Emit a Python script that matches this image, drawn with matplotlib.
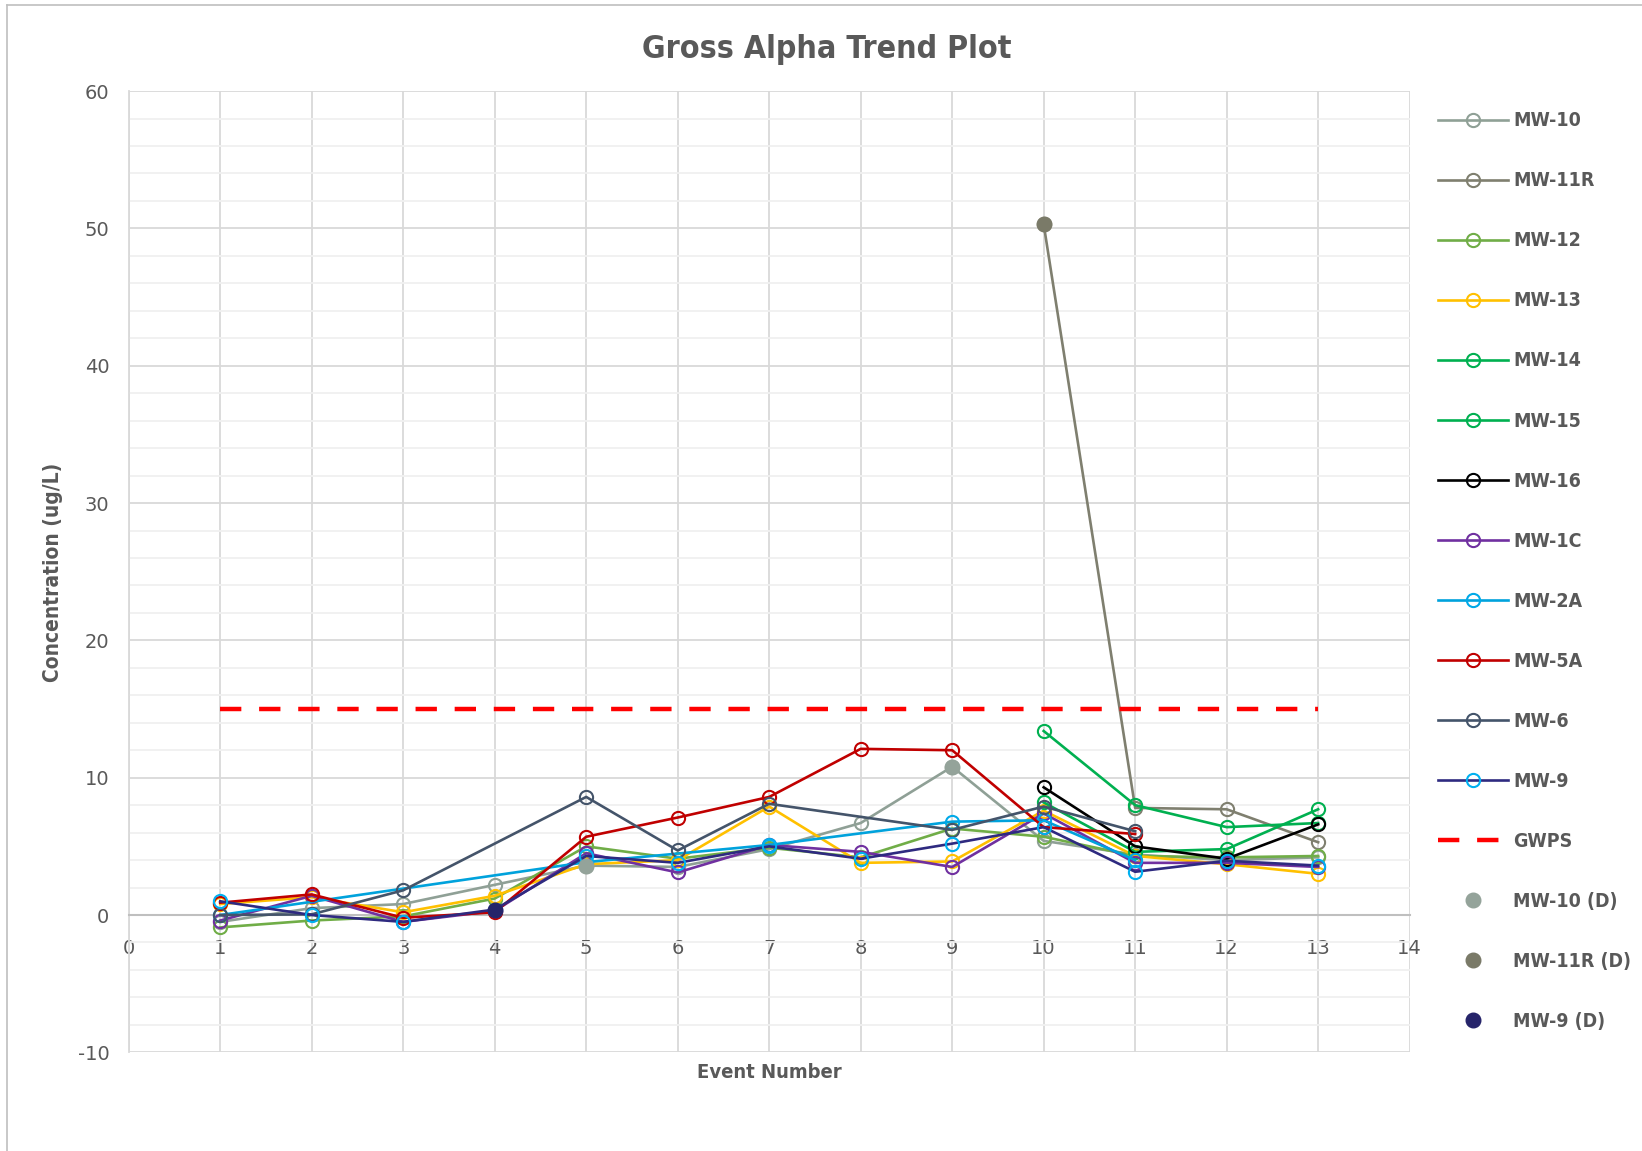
import numpy as np
import matplotlib
matplotlib.use("Agg")
import matplotlib.pyplot as plt
from matplotlib import font_manager
from matplotlib.lines import Line2D

plt.rcParams["axes.unicode_minus"] = False

nan = np.nan
events = np.arange(1, 14)

mw10 = [-0.5, 0.5, 0.8, 2.2, 3.6, 3.5, 4.8, 6.7, 10.8, 5.4, 4.4, 4.0, 4.2]
mw11r = [nan] * 9 + [50.3, 7.8, 7.7, 5.3]
mw12 = [-0.9, -0.4, -0.1, 1.2, 5.0, 4.1, 4.9, 4.2, 6.3, 5.7, 4.3, 4.2, 4.3]
mw13 = [0.8, 1.3, 0.2, 1.4, 3.7, 4.0, 7.9, 3.8, 3.9, 7.6, 4.3, 3.7, 3.0]
mw14 = [nan] * 9 + [13.4, 8.0, 6.4, 6.7]
mw15 = [nan] * 9 + [8.2, 4.6, 4.8, 7.7]
mw16 = [nan] * 9 + [9.3, 5.0, 4.1, 6.6]
mw1c = [-0.4, 1.4, -0.5, 0.3, 4.5, 3.1, 5.1, 4.6, 3.5, 7.4, 3.8, 3.8, 3.5]
mw2a = [0.0, nan, nan, nan, 3.85, nan, 5.1, nan, 6.8, 6.9, 4.0, nan, nan]
mw5a = [0.9, 1.5, -0.2, 0.2, 5.7, 7.1, 8.6, 12.1, 12.0, 6.4, 5.9, nan, nan]
mw6 = [0.0, 0.05, 1.8, nan, 8.6, 4.7, 8.1, nan, 6.2, 7.9, 6.1, nan, nan]
mw9 = [1.0, 0.0, -0.5, 0.4, 4.3, 3.8, 5.0, 4.1, 5.2, 6.4, 3.15, 3.95, 3.6]
gwps = [15.0] * 13
mw10_d = [nan] * 4 + [3.6] + [nan] * 3 + [10.8] + [nan] * 4
mw11r_d = [nan] * 9 + [50.3] + [nan] * 3
mw9_d = [nan] * 3 + [0.4] + [nan] * 9

# name, values, line colour, marker colour
series = [
    ("MW-10", mw10, "#8FA096", "#8FA096"),
    ("MW-11R", mw11r, "#7F7F6F", "#7F7F6F"),
    ("MW-12", mw12, "#70AD47", "#70AD47"),
    ("MW-13", mw13, "#FFC000", "#FFC000"),
    ("MW-14", mw14, "#00B050", "#00B050"),
    ("MW-15", mw15, "#00B050", "#00B050"),
    ("MW-16", mw16, "#000000", "#000000"),
    ("MW-1C", mw1c, "#7030A0", "#7030A0"),
    ("MW-2A", mw2a, "#00A2DC", "#00A9E8"),
    ("MW-5A", mw5a, "#C00000", "#C00000"),
    ("MW-6", mw6, "#44546A", "#44546A"),
    ("MW-9", mw9, "#2E2A80", "#00B0F0"),
]
dup_series = [
    ("MW-10 (D)", mw10_d, "#94A39A"),
    ("MW-11R (D)", mw11r_d, "#7A7A68"),
    ("MW-9 (D)", mw9_d, "#26246A"),
]

gray = "#595959"

# look for a narrow / condensed face for the bold labels
cands = [f for f in font_manager.fontManager.ttflist
         if "Narrow" in f.name or "Condensed" in f.name
         or str(f.stretch) in ("condensed", "semi-condensed", "extra-condensed", "75", "87")]
cands.sort(key=lambda f: (0 if f.weight in ("bold", 700, "700") else 1))
if cands:
    bold_family = [cands[0].name, "DejaVu Sans"]
    bold_stretch = cands[0].stretch
    scale = 1.0
else:
    bold_family = ["DejaVu Sans"]
    bold_stretch = "normal"
    scale = 0.88


def bfont(size):
    return font_manager.FontProperties(family=bold_family, weight="bold",
                                       stretch=bold_stretch, size=size * scale)


fig = plt.figure(figsize=(16.42, 11.51), dpi=100)
ax = fig.add_axes([0.0784, 0.0857, 0.7801, 0.8352])

handles = []
for name, vals, lc, mc in series:
    y = np.array(vals, dtype=float)
    m = ~np.isnan(y)
    h, = ax.plot(events[m], y[m], color=lc, lw=1.9, marker="o", ms=9.5,
                 mfc="none", mec=mc, mew=1.5, label=name, zorder=3)
    handles.append(h)

h, = ax.plot(events, gwps, color="#FF0000", lw=3.2, dashes=(4.8, 4.0),
             label="GWPS", zorder=3)
handles.append(h)

for name, vals, c in dup_series:
    y = np.array(vals, dtype=float)
    m = ~np.isnan(y)
    h, = ax.plot(events[m], y[m], ls="none", marker="o", ms=10.5,
                 color=c, label=name, zorder=4)
    handles.append(h)

ax.set_xlim(0, 14)
ax.set_ylim(-10, 60)
ax.set_xticks(range(0, 15))
ax.set_yticks(range(-10, 61, 10))
ax.set_yticks(range(-10, 61, 2), minor=True)
ax.grid(True, which="major", axis="both", color="#D9D9D9", lw=1.3, zorder=0)
ax.grid(True, which="minor", axis="y", color="#F0F0F0", lw=1.3, zorder=0)
ax.set_axisbelow(True)

for s in ["top", "right"]:
    ax.spines[s].set_visible(False)
ax.spines["left"].set_color("#D9D9D9")
ax.spines["left"].set_linewidth(1.3)
ax.spines["bottom"].set_position(("data", 0))
ax.spines["bottom"].set_color("#BFBFBF")
ax.spines["bottom"].set_linewidth(1.5)

ax.tick_params(axis="both", which="both", length=0, labelsize=14,
               labelcolor=gray)
ax.tick_params(axis="x", pad=17)
ax.tick_params(axis="y", pad=14)

fig.text(0.5037, 0.957, "Gross Alpha Trend Plot", ha="center", va="center",
         fontproperties=bfont(23), color=gray)
ax.text(7, -10.8, "Event Number", ha="center", va="top",
        fontproperties=bfont(14.5), color=gray)
fig.text(0.032, 0.503, "Concentration (ug/L)", rotation=90, ha="center",
         va="center", fontproperties=bfont(15), color=gray)

fig.legend(handles=handles, loc="upper left", bbox_to_anchor=(0.871, 0.910),
           frameon=False, handlelength=3.6, handletextpad=0.27,
           labelspacing=2.11, prop=bfont(14), labelcolor=gray, borderaxespad=0)

# chart area border (left and top edges visible)
fig.add_artist(Line2D([0.0045, 0.0045], [0, 0.9955], color="#BFBFBF", lw=1.2))
fig.add_artist(Line2D([0.0045, 1], [0.9955, 0.9955], color="#BFBFBF", lw=1.2))

fig.savefig("out.png", dpi=100)
